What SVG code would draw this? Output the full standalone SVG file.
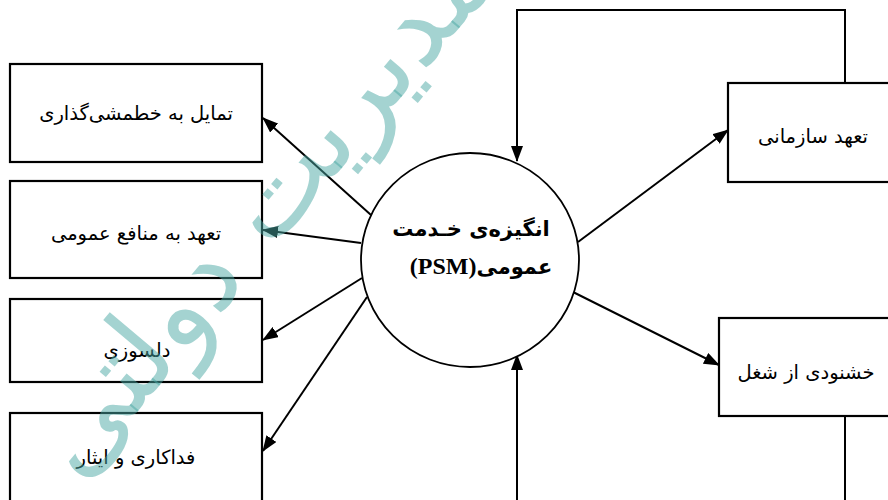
<svg xmlns="http://www.w3.org/2000/svg" width="888" height="500" viewBox="0 0 888 500">
<defs>
<marker id="ah" markerUnits="userSpaceOnUse" markerWidth="16" markerHeight="12" refX="15" refY="6" orient="auto">
<path d="M0,0 L16,6 L0,12 z" fill="#000"/>
</marker>
<style>
.box{fill:#fff;stroke:#000;stroke-width:2.2}
.lbl{font-family:"DejaVu Sans","Noto Sans",sans-serif;font-size:19.5px;fill:#000}
.ctr{font-family:"DejaVu Sans","Noto Sans",sans-serif;font-size:21px;font-weight:bold;fill:#000}
.con{fill:none;stroke:#000;stroke-width:2}
.wm{font-family:"DejaVu Sans",sans-serif;font-size:112px;fill:#4aa8a4;fill-opacity:0.5}
</style>
</defs>
<rect width="888" height="500" fill="#fff"/>
<g id="connectors">
<polyline class="con" points="845,83 845,10 517,10 517,161" marker-end="url(#ah)"/>
<line class="con" x1="517" y1="500" x2="517" y2="355" marker-end="url(#ah)"/>
<line class="con" x1="845" y1="416" x2="845" y2="500"/>
<line class="con" x1="371" y1="215" x2="263" y2="118" marker-end="url(#ah)"/>
<line class="con" x1="361" y1="243" x2="263" y2="230" marker-end="url(#ah)"/>
<line class="con" x1="362" y1="278" x2="263" y2="340" marker-end="url(#ah)"/>
<line class="con" x1="367" y1="297" x2="263" y2="451" marker-end="url(#ah)"/>
<line class="con" x1="578" y1="242" x2="728" y2="130" marker-end="url(#ah)"/>
<line class="con" x1="573" y1="292" x2="719" y2="365" marker-end="url(#ah)"/>
</g>
<g id="node-psm">
<ellipse cx="470" cy="260" rx="109" ry="107" fill="#fff" stroke="#000" stroke-width="1.8"/>
<text class="ctr" x="471" y="236" text-anchor="middle" direction="rtl">انگیزه‌ی خـدمت</text>
<text class="ctr" x="481" y="274" text-anchor="middle" direction="rtl">عمومی<tspan font-family="Liberation Serif" font-size="24px">(PSM)</tspan></text>
</g>
<g id="node-policy">
<rect class="box" x="10" y="64" width="252" height="98"/>
<text class="lbl" x="136" y="120" text-anchor="middle" direction="rtl">تمایل به خطمشی‌گذاری</text>
</g>
<g id="node-public-interest">
<rect class="box" x="10" y="181" width="252" height="97"/>
<text class="lbl" x="136" y="240" text-anchor="middle" direction="rtl">تعهد به منافع عمومی</text>
</g>
<g id="node-compassion">
<rect class="box" x="10" y="299" width="252" height="83"/>
<text class="lbl" x="137" y="357" text-anchor="middle" direction="rtl">دلسوزی</text>
</g>
<g id="node-sacrifice">
<rect class="box" x="10" y="413" width="252" height="100"/>
<text class="lbl" x="136" y="464" text-anchor="middle" direction="rtl">فداکاری و ایثار</text>
</g>
<g id="node-org-commitment">
<rect class="box" x="728" y="83" width="180" height="99"/>
<text class="lbl" x="813" y="143" text-anchor="middle" direction="rtl">تعهد سازمانی</text>
</g>
<g id="node-job-satisfaction">
<rect class="box" x="719" y="318" width="190" height="98"/>
<text class="lbl" x="806" y="379" text-anchor="middle" direction="rtl">خشنودی از شغل</text>
</g>
<text class="wm" x="0" y="0" text-anchor="middle" direction="rtl" transform="translate(288,232) rotate(-50)">مدیریت دولتی</text>
</svg>
